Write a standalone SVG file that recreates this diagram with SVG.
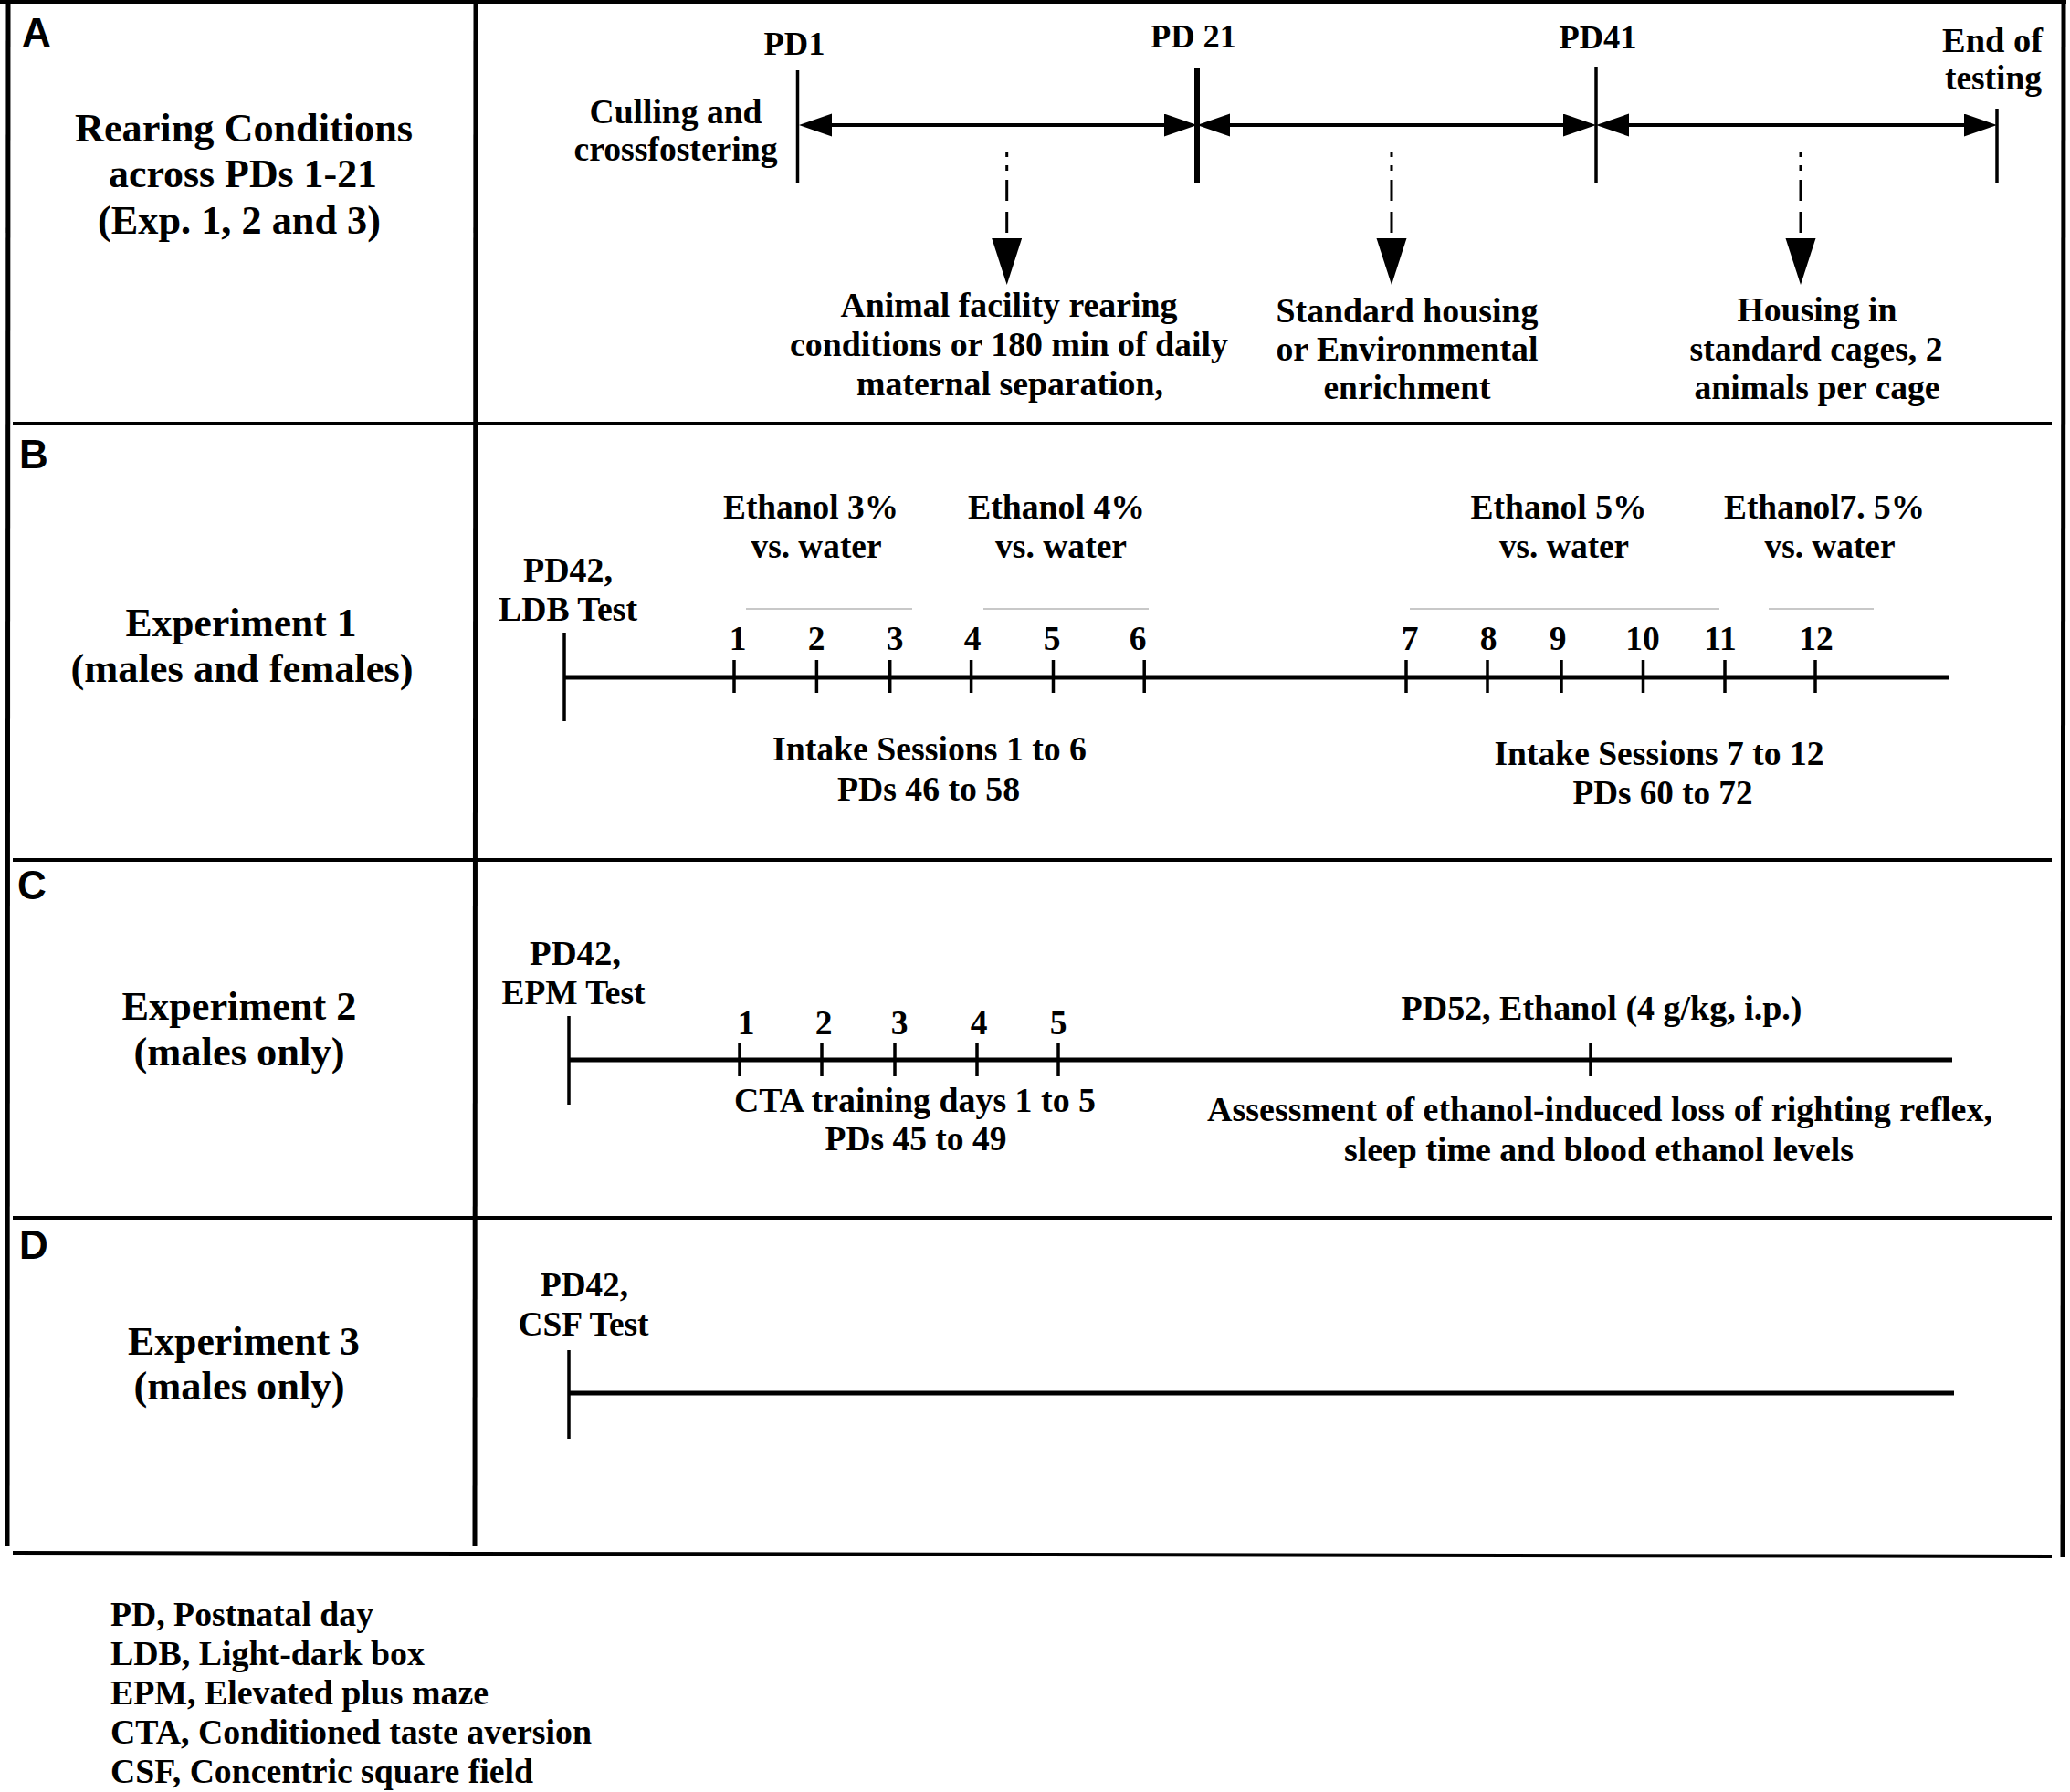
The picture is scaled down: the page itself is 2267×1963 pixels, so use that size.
<svg xmlns="http://www.w3.org/2000/svg" width="2267" height="1963" viewBox="0 0 2267 1963">
<style>
.t{font-family:"Liberation Serif","Times New Roman",serif;font-weight:bold;font-size:37.5px;fill:#000;text-anchor:middle}
.s{font-size:36.3px}
.h{font-size:44px}
.st{text-anchor:start}
.lbl{font-family:"Liberation Sans",Arial,sans-serif;font-weight:bold;font-size:44px;fill:#000}
.fr{stroke:#000;stroke-width:5;fill:none}
.hl{stroke:#000;stroke-width:4;fill:none}
.tl{stroke:#000;stroke-width:5;fill:none}
.tk{stroke:#000;stroke-width:3.5;fill:none}
.gr{stroke:#c8c8c8;stroke-width:2;fill:none}
.arr{stroke:#000;stroke-width:4;fill:none;marker-start:url(#ah);marker-end:url(#ah)}
.dash{stroke:#000;stroke-width:3;fill:none;stroke-dasharray:6 9 6 10 23 12 23 100;marker-end:url(#dh)}
</style>
<defs>
<marker id="ah" markerUnits="userSpaceOnUse" markerWidth="40" markerHeight="27" refX="30" refY="12.5" orient="auto-start-reverse" viewBox="0 0 40 27">
<path d="M0,0 L36,12.5 L0,25 z" fill="#000"/>
</marker>
<marker id="dh" markerUnits="userSpaceOnUse" markerWidth="52" markerHeight="34" refX="0" refY="16.5" orient="auto" viewBox="0 0 52 34">
<path d="M0,0 L51,16.5 L0,33 z" fill="#000"/>
</marker>
</defs>
<rect width="2267" height="1963" fill="#fff"/>

<g id="frame">
<line class="hl" x1="0" y1="2" x2="2263" y2="2"/>
<line class="fr" x1="9" y1="0" x2="8" y2="1694"/>
<line class="fr" x1="521" y1="0" x2="520" y2="1694"/>
<line class="fr" x1="2260" y1="0" x2="2259" y2="1706"/>
<line class="hl" x1="14" y1="464" x2="2247" y2="464"/>
<line class="hl" x1="14" y1="942" x2="2247" y2="942"/>
<line class="hl" x1="14" y1="1334" x2="2247" y2="1334"/>
<line class="hl" x1="14" y1="1701" x2="2247" y2="1705"/>
</g>

<g id="panel-A">
<text class="lbl" x="24" y="51">A</text>
<text class="t h" x="267" y="155" textLength="370" lengthAdjust="spacingAndGlyphs">Rearing Conditions</text>
<text class="t h" x="266" y="205" textLength="294" lengthAdjust="spacingAndGlyphs">across PDs 1-21</text>
<text class="t h" x="262" y="256" textLength="310" lengthAdjust="spacingAndGlyphs">(Exp. 1, 2 and 3)</text>
</g>

<g id="node-PD1">
<text class="t s" x="870" y="60" textLength="67" lengthAdjust="spacingAndGlyphs">PD1</text>
<line stroke="#000" stroke-width="3.5" x1="873.5" y1="77" x2="873.5" y2="201"/>
<text class="t" x="740" y="135" textLength="189" lengthAdjust="spacingAndGlyphs">Culling and</text>
<text class="t" x="740" y="176" textLength="223" lengthAdjust="spacingAndGlyphs">crossfostering</text>
</g>
<g id="node-PD21">
<text class="t s" x="1307" y="52" textLength="94" lengthAdjust="spacingAndGlyphs">PD 21</text>
<line stroke="#000" stroke-width="6" x1="1311" y1="75" x2="1311" y2="200"/>
</g>
<g id="node-PD41">
<text class="t s" x="1750" y="53" textLength="85" lengthAdjust="spacingAndGlyphs">PD41</text>
<line stroke="#000" stroke-width="3.5" x1="1748" y1="73" x2="1748" y2="200"/>
</g>
<g id="node-end">
<text class="t" x="2182" y="57" textLength="110" lengthAdjust="spacingAndGlyphs">End of</text>
<text class="t" x="2183" y="98" textLength="106" lengthAdjust="spacingAndGlyphs">testing</text>
<line stroke="#000" stroke-width="3.5" x1="2187" y1="119" x2="2187" y2="200"/>
</g>
<g id="node-rearing">
<text class="t" x="1105" y="347" textLength="369" lengthAdjust="spacingAndGlyphs">Animal facility rearing</text>
<text class="t" x="1105" y="390" textLength="480" lengthAdjust="spacingAndGlyphs">conditions or 180 min of daily</text>
<text class="t" x="1106" y="433" textLength="336" lengthAdjust="spacingAndGlyphs">maternal separation,</text>
</g>
<g id="node-housing">
<text class="t" x="1541" y="353" textLength="287" lengthAdjust="spacingAndGlyphs">Standard housing</text>
<text class="t" x="1541" y="395" textLength="287" lengthAdjust="spacingAndGlyphs">or Environmental</text>
<text class="t" x="1541" y="437" textLength="183" lengthAdjust="spacingAndGlyphs">enrichment</text>
</g>
<g id="node-cages">
<text class="t" x="1990" y="352" textLength="175" lengthAdjust="spacingAndGlyphs">Housing in</text>
<text class="t" x="1989" y="395" textLength="277" lengthAdjust="spacingAndGlyphs">standard cages, 2</text>
<text class="t" x="1990" y="437" textLength="269" lengthAdjust="spacingAndGlyphs">animals per cage</text>
</g>

<g id="connectors">
<line class="arr" x1="881" y1="137" x2="1305" y2="137"/>
<line class="arr" x1="1317" y1="137" x2="1742" y2="137"/>
<line class="arr" x1="1754" y1="137" x2="2181" y2="137"/>
<line class="dash" x1="1102.7" y1="166" x2="1102.7" y2="261"/>
<line class="dash" x1="1524" y1="166" x2="1524" y2="261"/>
<line class="dash" x1="1972" y1="166" x2="1972" y2="261"/>
</g>

<g id="panel-B">
<text class="lbl" x="21" y="513">B</text>
<text class="t h" x="264" y="697" textLength="253" lengthAdjust="spacingAndGlyphs">Experiment 1</text>
<text class="t h" x="265" y="747" textLength="375" lengthAdjust="spacingAndGlyphs">(males and females)</text>
<text class="t" x="622" y="637" textLength="98" lengthAdjust="spacingAndGlyphs">PD42,</text>
<text class="t" x="622" y="680" textLength="152" lengthAdjust="spacingAndGlyphs">LDB Test</text>
<text class="t" x="888" y="568" textLength="192" lengthAdjust="spacingAndGlyphs">Ethanol 3%</text>
<text class="t" x="894" y="611" textLength="143" lengthAdjust="spacingAndGlyphs">vs. water</text>
<text class="t" x="1157" y="568" textLength="194" lengthAdjust="spacingAndGlyphs">Ethanol 4%</text>
<text class="t" x="1162" y="611" textLength="144" lengthAdjust="spacingAndGlyphs">vs. water</text>
<text class="t" x="1707" y="568" textLength="193" lengthAdjust="spacingAndGlyphs">Ethanol 5%</text>
<text class="t" x="1713" y="611" textLength="142" lengthAdjust="spacingAndGlyphs">vs. water</text>
<text class="t" x="1998" y="568" textLength="220" lengthAdjust="spacingAndGlyphs">Ethanol7. 5%</text>
<text class="t" x="2004" y="611" textLength="143" lengthAdjust="spacingAndGlyphs">vs. water</text>
<line class="gr" x1="817" y1="667" x2="999" y2="667"/>
<line class="gr" x1="1077" y1="667" x2="1258" y2="667"/>
<line class="gr" x1="1544" y1="667" x2="1883" y2="667"/>
<line class="gr" x1="1937" y1="667" x2="2052" y2="667"/>
<g class="t">
<text x="808" y="712">1</text><text x="894" y="712">2</text><text x="980" y="712">3</text><text x="1065" y="712">4</text>
<text x="1152" y="712">5</text><text x="1246" y="712">6</text><text x="1544" y="712">7</text><text x="1630" y="712">8</text>
<text x="1706" y="712">9</text><text x="1799" y="712">10</text><text x="1884" y="712">11</text><text x="1989" y="712">12</text>
</g>
<line class="tk" x1="618" y1="693" x2="618" y2="790"/>
<line class="tl" x1="618" y1="742" x2="2135" y2="742"/>
<path class="tk" d="M804,723V759M894.4,723V759M974.7,723V759M1063.6,723V759M1153.5,723V759M1253.2,723V759M1540,723V759M1629,723V759M1710,723V759M1799.5,723V759M1889,723V759M1988,723V759"/>
<text class="t" x="1018" y="833" textLength="344" lengthAdjust="spacingAndGlyphs">Intake Sessions 1 to 6</text>
<text class="t" x="1017" y="877" textLength="200" lengthAdjust="spacingAndGlyphs">PDs 46 to 58</text>
<text class="t" x="1817" y="838" textLength="361" lengthAdjust="spacingAndGlyphs">Intake Sessions 7 to 12</text>
<text class="t" x="1821" y="881" textLength="197" lengthAdjust="spacingAndGlyphs">PDs 60 to 72</text>
</g>

<g id="panel-C">
<text class="lbl" x="19" y="985">C</text>
<text class="t h" x="262" y="1117" textLength="257" lengthAdjust="spacingAndGlyphs">Experiment 2</text>
<text class="t h" x="262" y="1167" textLength="231" lengthAdjust="spacingAndGlyphs">(males only)</text>
<text class="t" x="630" y="1057" textLength="100" lengthAdjust="spacingAndGlyphs">PD42,</text>
<text class="t" x="628" y="1100" textLength="157" lengthAdjust="spacingAndGlyphs">EPM Test</text>
<g class="t">
<text x="817" y="1133">1</text><text x="902" y="1133">2</text><text x="985" y="1133">3</text><text x="1072" y="1133">4</text><text x="1159" y="1133">5</text>
</g>
<line class="tk" x1="623" y1="1113" x2="623" y2="1210"/>
<line class="tl" x1="623" y1="1161" x2="2138" y2="1161"/>
<path class="tk" d="M810,1143V1179M900,1143V1179M980,1143V1179M1070,1143V1179M1159,1143V1179M1742,1143V1179"/>
<text class="t" x="1002" y="1218" textLength="396" lengthAdjust="spacingAndGlyphs">CTA training days 1 to 5</text>
<text class="t" x="1003" y="1260" textLength="199" lengthAdjust="spacingAndGlyphs">PDs 45 to 49</text>
<text class="t" x="1754" y="1117" textLength="439" lengthAdjust="spacingAndGlyphs">PD52, Ethanol (4 g/kg, i.p.)</text>
<text class="t" x="1752" y="1228" textLength="860" lengthAdjust="spacingAndGlyphs">Assessment of ethanol-induced loss of righting reflex,</text>
<text class="t" x="1751" y="1272" textLength="558" lengthAdjust="spacingAndGlyphs">sleep time and blood ethanol levels</text>
</g>

<g id="panel-D">
<text class="lbl" x="21" y="1379">D</text>
<text class="t h" x="267" y="1484" textLength="254" lengthAdjust="spacingAndGlyphs">Experiment 3</text>
<text class="t h" x="262" y="1533" textLength="231" lengthAdjust="spacingAndGlyphs">(males only)</text>
<text class="t" x="640" y="1420" textLength="96" lengthAdjust="spacingAndGlyphs">PD42,</text>
<text class="t" x="639" y="1463" textLength="143" lengthAdjust="spacingAndGlyphs">CSF Test</text>
<line class="tk" x1="623" y1="1479" x2="623" y2="1576"/>
<line class="tl" x1="623" y1="1526" x2="2140" y2="1526"/>
</g>

<g id="legend">
<text class="t st" x="121" y="1781" textLength="288" lengthAdjust="spacingAndGlyphs">PD, Postnatal day</text>
<text class="t st" x="121" y="1824" textLength="344" lengthAdjust="spacingAndGlyphs">LDB, Light-dark box</text>
<text class="t st" x="121" y="1867" textLength="414" lengthAdjust="spacingAndGlyphs">EPM, Elevated plus maze</text>
<text class="t st" x="121" y="1910" textLength="527" lengthAdjust="spacingAndGlyphs">CTA, Conditioned taste aversion</text>
<text class="t st" x="121" y="1953" textLength="463" lengthAdjust="spacingAndGlyphs">CSF, Concentric square field</text>
</g>
</svg>
